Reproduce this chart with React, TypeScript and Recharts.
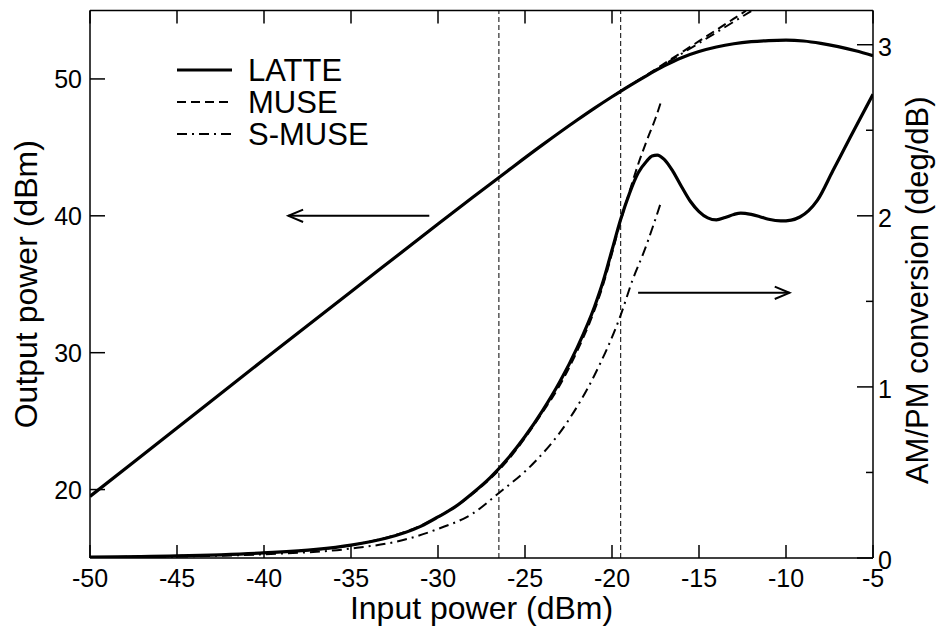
import React from 'react';
import { LineChart, Line, XAxis, YAxis, ReferenceLine, Legend } from 'recharts';

const FONT = '"Liberation Sans", Arial, Helvetica, sans-serif';

// ---- ticks ----
const xTicks = [-50, -45, -40, -35, -30, -25, -20, -15, -10, -5];
const leftTicks = [20, 30, 40, 50];
const rightTicks = [0, 0.5, 1, 1.5, 2, 2.5, 3];

// ---- output power (left axis) ----
const latteOutX = [-50, -45, -40, -35, -30, -28, -26, -24, -22, -21, -20, -19, -18, -17, -16, -15, -14, -13, -12, -11, -10, -9, -8, -7, -6, -5];
const latteOutY = [19.5, 24.5, 29.5, 34.45, 39.4, 41.35, 43.28, 45.18, 47.0, 47.87, 48.7, 49.5, 50.25, 50.95, 51.55, 52.0, 52.33, 52.57, 52.72, 52.8, 52.83, 52.77, 52.6, 52.36, 52.06, 51.7];

const museOutX = [-20, -19, -18, -17, -16, -15, -14, -13, -12.3];
const museOutY = [48.7, 49.5, 50.3, 51.12, 51.94, 52.76, 53.58, 54.4, 54.98];

const smuseOutX = [-20, -19, -18, -17, -16, -15, -14, -13, -12];
const smuseOutY = [48.7, 49.5, 50.28, 51.06, 51.84, 52.62, 53.4, 54.18, 54.96];

// ---- AM/PM conversion (right axis) ----
const latteAmpmX = [-50, -45, -40, -37, -35, -33, -31, -30, -29, -28, -27, -26, -25, -24, -23, -22, -21, -20.5, -20, -19.5, -19, -18.5, -18, -17.7, -17.4, -17, -16.5, -16, -15.5, -15, -14.5, -14, -13.5, -13, -12.6, -12, -11.5, -11, -10.3, -9.7, -9.2, -8.7, -8.2, -7.3, -6.3, -5];
const latteAmpmY = [0.005, 0.012, 0.03, 0.05, 0.075, 0.115, 0.185, 0.24, 0.3, 0.38, 0.47, 0.58, 0.71, 0.86, 1.03, 1.23, 1.47, 1.62, 1.8, 1.98, 2.13, 2.25, 2.32, 2.35, 2.355, 2.33, 2.26, 2.17, 2.085, 2.025, 1.988, 1.976, 1.99, 2.008, 2.016, 2.008, 1.995, 1.98, 1.97, 1.975, 1.993, 2.03, 2.09, 2.265, 2.46, 2.71];

const museAmpmX = [-50, -45, -40, -35, -30, -28, -26, -24, -23, -22, -21, -20.5, -20, -19.5, -19, -18.5, -18, -17.5, -17.15];
const museAmpmY = [0.005, 0.012, 0.03, 0.075, 0.24, 0.375, 0.57, 0.85, 1.01, 1.21, 1.45, 1.6, 1.78, 1.97, 2.14, 2.3, 2.44, 2.57, 2.677];

const smuseAmpmX = [-50, -45, -40, -35, -32, -30, -28, -26.5, -24.5, -22.6, -21, -19.5, -18.8, -18.2, -17.15];
const smuseAmpmY = [0.003, 0.008, 0.022, 0.055, 0.105, 0.17, 0.26, 0.38, 0.555, 0.79, 1.07, 1.42, 1.63, 1.78, 2.09];

// ---- annotations ----
const seriesNames = ['LATTE', 'MUSE', 'S-MUSE'];
const markerLines = [-26.5, -19.5];
const leftArrowX = [-30.5, -38.6];
const leftArrowY = 40;
const rightArrowX = [-18.5, -9.8];
const rightArrowY = 1.55;

const pts = (xs: number[], ys: number[]) => xs.map((x, i) => ({ x, y: ys[i] }));

const styles = [
  { width: 3.2, dash: undefined as string | undefined },
  { width: 2, dash: '9 5' },
  { width: 2, dash: '10 5 2 5' },
];

const BottomTick = (p: any) => {
  const { x, y, payload } = p;
  return (
    <g>
      <line x1={x} x2={x} y1={y} y2={y - 13} stroke="#000" strokeWidth={1.5} />
      <text x={x} y={y + 29} textAnchor="middle" fontSize={25} fontFamily={FONT} fill="#000">{payload.value}</text>
    </g>
  );
};
const TopTick = (p: any) => {
  const { x, y } = p;
  return <line x1={x} x2={x} y1={y} y2={y + 13} stroke="#000" strokeWidth={1.5} />;
};
const LeftTick = (p: any) => {
  const { x, y, payload } = p;
  return (
    <g>
      <line x1={x} x2={x + 15} y1={y} y2={y} stroke="#000" strokeWidth={1.5} />
      <text x={x - 8} y={y + 9} textAnchor="end" fontSize={25} fontFamily={FONT} fill="#000">{payload.value}</text>
    </g>
  );
};
const RightTick = (p: any) => {
  const { x, y, payload } = p;
  const major = Number.isInteger(payload.value);
  return (
    <g>
      <line x1={x} x2={x - (major ? 16 : 7)} y1={y} y2={y} stroke="#000" strokeWidth={1.5} />
      {major && (
        <text x={x + 5} y={y + 11} textAnchor="start" fontSize={25} fontFamily={FONT} fill="#000">{payload.value}</text>
      )}
    </g>
  );
};

const ArrowShape = (props: any) => {
  const { x1, y1, x2, y2 } = props;
  const ang = Math.atan2(y2 - y1, x2 - x1);
  const L = 16;
  const a = 0.4;
  const ax = x2 - L * Math.cos(ang - a);
  const ay = y2 - L * Math.sin(ang - a);
  const bx = x2 - L * Math.cos(ang + a);
  const by = y2 - L * Math.sin(ang + a);
  return (
    <g>
      <line x1={x1} y1={y1} x2={x2} y2={y2} stroke="#000" strokeWidth={2} />
      <polyline points={`${ax},${ay} ${x2},${y2} ${bx},${by}`} fill="none" stroke="#000" strokeWidth={2} />
    </g>
  );
};

const LegendContent = () => (
  <svg width={260} height={110} style={{ display: 'block' }}>
    {seriesNames.map((n, i) => (
      <g key={n}>
        <line x1={7} x2={62} y1={18 + i * 32} y2={18 + i * 32} stroke="#000" strokeWidth={styles[i].width} strokeDasharray={styles[i].dash} />
        <text x={78} y={29 + i * 32} fontSize={31} fontFamily={FONT} fill="#000">{n}</text>
      </g>
    ))}
  </svg>
);

export default function App() {
  return (
    <>
      <style>{'body{margin:0}'}</style>
      <LineChart width={936} height={629} margin={{ top: 9.5, right: 0, bottom: 0, left: 0 }}>
        <XAxis xAxisId="b" type="number" dataKey="x" domain={[-50, -5]} ticks={xTicks} interval={0}
          allowDataOverflow height={71} tickSize={0} tickMargin={0} tick={<BottomTick />}
          axisLine={{ stroke: '#000', strokeWidth: 1.5 }}
          label={{
            content: (p: any) => {
              const vb = p.viewBox;
              return <text x={vb.x + vb.width / 2} y={vb.y + 61} textAnchor="middle" fontSize={32} fontFamily={FONT} fill="#000">Input power (dBm)</text>;
            },
          }} />
        <XAxis xAxisId="t" orientation="top" type="number" dataKey="x" domain={[-50, -5]} ticks={xTicks} interval={0}
          allowDataOverflow height={1} tickSize={0} tickMargin={0} tick={<TopTick />}
          axisLine={{ stroke: '#000', strokeWidth: 1.5 }} />
        <YAxis yAxisId="l" orientation="left" type="number" domain={[15, 55]} ticks={leftTicks} interval={0}
          allowDataOverflow width={90} tickSize={0} tickMargin={0} tick={<LeftTick />}
          axisLine={{ stroke: '#000', strokeWidth: 1.5 }}
          label={{
            content: (p: any) => {
              const vb = p.viewBox;
              const cx = vb.x + 37;
              const cy = vb.y + vb.height / 2;
              return <text x={cx} y={cy} transform={`rotate(-90 ${cx} ${cy})`} textAnchor="middle" fontSize={32} fontFamily={FONT} fill="#000">Output power (dBm)</text>;
            },
          }} />
        <YAxis yAxisId="r" orientation="right" type="number" domain={[0, 3.2]} ticks={rightTicks} interval={0}
          allowDataOverflow width={63} tickSize={0} tickMargin={0} tick={<RightTick />}
          axisLine={{ stroke: '#000', strokeWidth: 1.5 }}
          label={{
            content: (p: any) => {
              const vb = p.viewBox;
              const cx = vb.x + vb.width - 8;
              const cy = vb.y + vb.height / 2 + 6;
              return <text x={cx} y={cy} transform={`rotate(-90 ${cx} ${cy})`} textAnchor="middle" fontSize={31} fontFamily={FONT} fill="#000">AM/PM conversion (deg/dB)</text>;
            },
          }} />

        {markerLines.map((v) => (
          <ReferenceLine key={v} xAxisId="b" yAxisId="l" x={v} stroke="#000" strokeWidth={1} strokeDasharray="5 3" />
        ))}

        <Line xAxisId="b" yAxisId="l" data={pts(smuseOutX, smuseOutY)} dataKey="y" type="monotone" dot={false} stroke="#000" strokeWidth={styles[2].width} strokeDasharray={styles[2].dash} isAnimationActive={false} />
        <Line xAxisId="b" yAxisId="l" data={pts(museOutX, museOutY)} dataKey="y" type="monotone" dot={false} stroke="#000" strokeWidth={styles[1].width} strokeDasharray={styles[1].dash} isAnimationActive={false} />
        <Line xAxisId="b" yAxisId="l" data={pts(latteOutX, latteOutY)} dataKey="y" type="monotone" dot={false} stroke="#000" strokeWidth={styles[0].width} isAnimationActive={false} />

        <Line xAxisId="b" yAxisId="r" data={pts(smuseAmpmX, smuseAmpmY)} dataKey="y" type="monotone" dot={false} stroke="#000" strokeWidth={styles[2].width} strokeDasharray={styles[2].dash} isAnimationActive={false} />
        <Line xAxisId="b" yAxisId="r" data={pts(museAmpmX, museAmpmY)} dataKey="y" type="monotone" dot={false} stroke="#000" strokeWidth={styles[1].width} strokeDasharray={styles[1].dash} isAnimationActive={false} />
        <Line xAxisId="b" yAxisId="r" data={pts(latteAmpmX, latteAmpmY)} dataKey="y" type="monotone" dot={false} stroke="#000" strokeWidth={styles[0].width} isAnimationActive={false} />

        <ReferenceLine xAxisId="b" yAxisId="l" segment={[{ x: leftArrowX[0], y: leftArrowY }, { x: leftArrowX[1], y: leftArrowY }]} shape={ArrowShape} />
        <ReferenceLine xAxisId="b" yAxisId="r" segment={[{ x: rightArrowX[0], y: rightArrowY }, { x: rightArrowX[1], y: rightArrowY }]} shape={ArrowShape} />

        <Legend layout="vertical" align="center" verticalAlign="middle" content={<LegendContent />}
          wrapperStyle={{ position: 'absolute', left: 170, top: 52, width: 260, height: 110 }} />
      </LineChart>
    </>
  );
}
